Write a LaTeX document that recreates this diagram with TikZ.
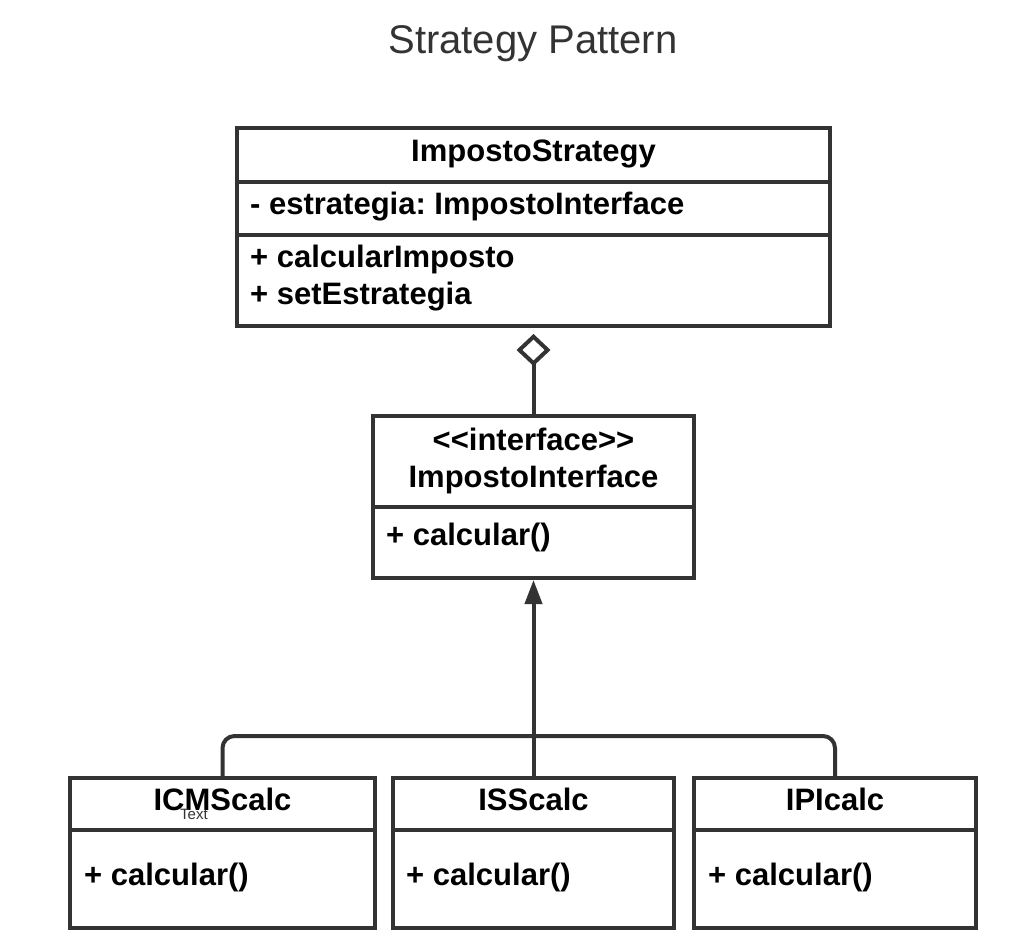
\documentclass[tikz,border=0pt]{standalone}
\usepackage{fontspec}
\setmainfont{Liberation Sans}
\usetikzlibrary{arrows.meta}
\definecolor{lc}{HTML}{333333}
\frenchspacing
\begin{document}
\begin{tikzpicture}[x=1pt,y=-1pt,
  cls/.style={rectangle, draw=lc, line width=4pt, fill=white, inner sep=0pt},
  sep/.style={draw=lc, line width=4pt},
  conn/.style={draw=lc, line width=4pt},
  head/.style={inner sep=0pt, anchor=base, text=black, font=\bfseries\fontsize{31}{37}\selectfont},
  member/.style={inner sep=0pt, anchor=base west, text=black, font=\bfseries\fontsize{31}{37}\selectfont},
  title/.style={inner sep=0pt, anchor=base, text=lc, font=\fontsize{40}{48}\selectfont},
  hint/.style={inner sep=0pt, anchor=base west, text=lc, font=\fontsize{15}{18}\selectfont}]
\useasboundingbox (0,0) rectangle (1026,952);

% title
\node[title] (ttl) at (533,54) {Strategy Pattern};

% context class
\node[cls, minimum width=593pt, minimum height=198pt] (ctx) at (533.5,227) {};
\draw[sep] (ctx.west |- 0,182) -- (ctx.east |- 0,182);
\draw[sep] (ctx.west |- 0,235) -- (ctx.east |- 0,235);
\node[head] (ctxname) at (533.5,162) {ImpostoStrategy};
\node[member] (ctxattr) at (250,215) {- estrategia: ImpostoInterface};
\node[member] (ctxop1) at (250,268) {+ calcularImposto};
\node[member] (ctxop2) at (250,305) {+ setEstrategia};

% strategy interface
\node[cls, minimum width=321pt, minimum height=162pt] (iface) at (533.5,497) {};
\draw[sep] (iface.west |- 0,507) -- (iface.east |- 0,507);
\node[head] (ifst) at (533.5,450) {<{}<interface>{}>};
\node[head] (ifname) at (533.5,487) {ImpostoInterface};
\node[member] (ifop) at (386,545) {+ calcular()};

% concrete strategies
\node[cls, minimum width=305pt, minimum height=150pt] (icms) at (222.5,853) {};
\node[cls, minimum width=281pt, minimum height=150pt] (iss) at (533.5,853) {};
\node[cls, minimum width=282pt, minimum height=150pt] (ipi) at (835,853) {};
\foreach \c in {icms,iss,ipi}
  \draw[sep] (\c.west |- 0,830) -- (\c.east |- 0,830);
\node[head] (icmsname) at (222.5,810) {ICMScalc};
\node[head] (issname) at (533.5,810) {ISScalc};
\node[head] (ipiname) at (835,810) {IPIcalc};
\node[member] (icmsop) at (84,885) {+ calcular()};
\node[member] (issop) at (406,885) {+ calcular()};
\node[member] (ipiop) at (708,885) {+ calcular()};
\node[hint] (txt) at (180,819) {Text};

% aggregation
\draw[conn, shorten >=6pt, -{Diamond[open, length=32pt, width=34pt]}] (iface.north) -- (ctx.south);

% realization
\coordinate (bus) at (533.5,736);
\draw[conn, rounded corners=12pt] (icms.north) |- (bus) -| (ipi.north);
\draw[conn, -{Triangle[length=24pt, width=17pt]}] (iss.north) -- (iface.south);
\end{tikzpicture}
\end{document}
